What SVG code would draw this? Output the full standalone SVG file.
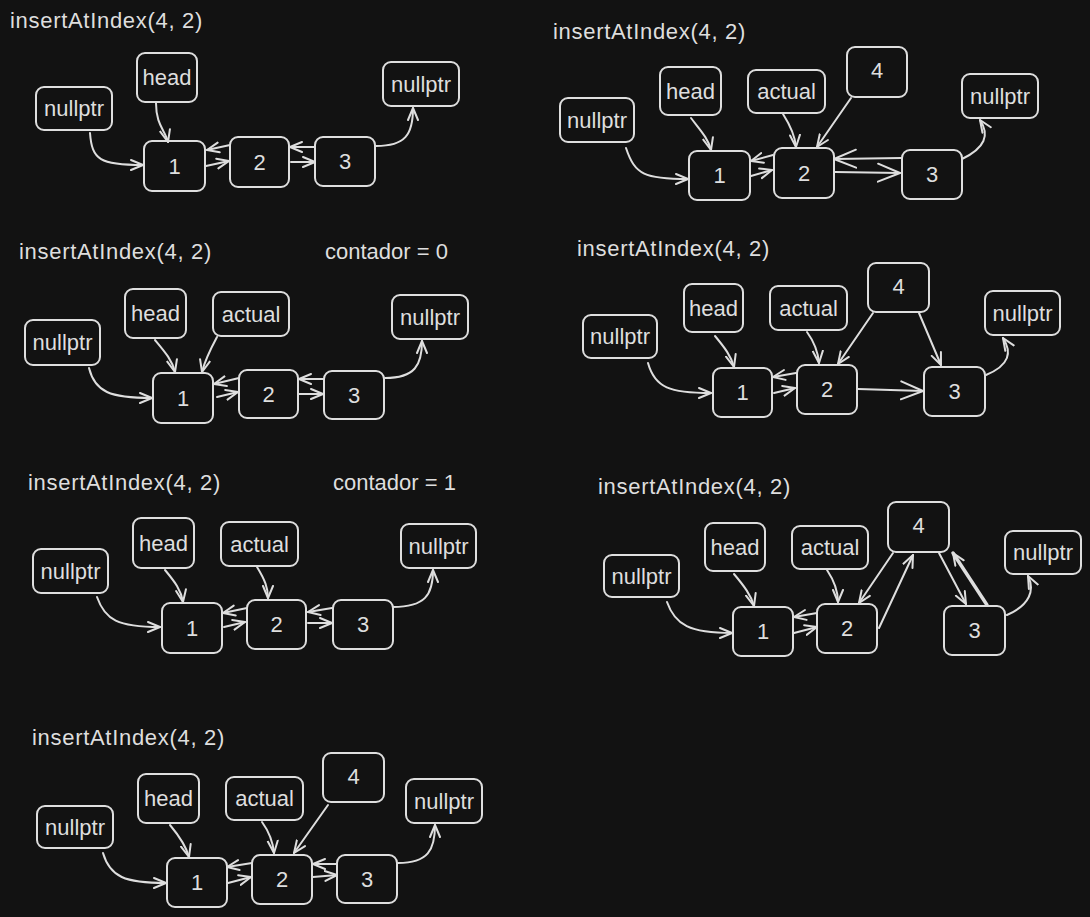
<svg xmlns="http://www.w3.org/2000/svg" width="1090" height="917" viewBox="0 0 1090 917">
<defs>
<style>
.bg{fill:#121212}
.n rect{fill:#121212;stroke:#dedede;stroke-width:2}
.n text,.lbl{font-family:"Liberation Sans",Arial,sans-serif;font-size:22px;fill:#dedede}
.ttl{letter-spacing:0.7px}
.n text{text-anchor:middle;dominant-baseline:central}
.c path{fill:none;stroke:#dedede;stroke-width:2;stroke-linecap:round;marker-end:url(#ah)}
.c path.L{marker-end:url(#ahL)}
.c path.T{stroke-width:3.5}
</style>
<marker id="ah" viewBox="0 0 14 14" refX="13" refY="7" markerWidth="14" markerHeight="14" orient="auto" markerUnits="userSpaceOnUse"><path d="M1,2 L13,7 L1,12" fill="none" stroke="#dedede" stroke-width="2" stroke-linecap="round" stroke-linejoin="round"/></marker>
<marker id="ahL" viewBox="0 0 24 24" refX="23" refY="12" markerWidth="24" markerHeight="24" orient="auto" markerUnits="userSpaceOnUse"><path d="M1,3 L23,12 L1,21" fill="none" stroke="#dedede" stroke-width="2" stroke-linecap="round" stroke-linejoin="round"/></marker>
</defs>
<rect class="bg" x="0" y="0" width="1090" height="917"/>

<!-- Titles -->
<text class="lbl ttl" x="10" y="28">insertAtIndex(4, 2)</text>
<text class="lbl ttl" x="553" y="39">insertAtIndex(4, 2)</text>
<text class="lbl ttl" x="19" y="259">insertAtIndex(4, 2)</text>
<text class="lbl" x="325" y="259">contador = 0</text>
<text class="lbl ttl" x="577" y="256">insertAtIndex(4, 2)</text>
<text class="lbl ttl" x="28" y="490">insertAtIndex(4, 2)</text>
<text class="lbl" x="333" y="490">contador = 1</text>
<text class="lbl ttl" x="598" y="494">insertAtIndex(4, 2)</text>
<text class="lbl ttl" x="32" y="745">insertAtIndex(4, 2)</text>

<!-- Panel A -->
<g id="a-nullL" class="n"><rect x="36" y="87" width="76" height="43" rx="8"/><text x="74" y="108.5">nullptr</text></g>
<g id="a-head" class="n"><rect x="137" y="53" width="60" height="49" rx="8"/><text x="167" y="77.5">head</text></g>
<g id="a-n1" class="n"><rect x="144" y="141" width="61" height="50" rx="8"/><text x="174.5" y="166">1</text></g>
<g id="a-n2" class="n"><rect x="230" y="137" width="59" height="50" rx="8"/><text x="259.5" y="162">2</text></g>
<g id="a-n3" class="n"><rect x="315" y="137" width="60" height="49" rx="8"/><text x="345" y="161.5">3</text></g>
<g id="a-nullR" class="n"><rect x="383" y="62" width="76" height="44" rx="8"/><text x="421" y="84">nullptr</text></g>

<!-- Panel B -->
<g id="b-nullL" class="n"><rect x="560" y="98" width="74" height="44" rx="8"/><text x="597" y="120">nullptr</text></g>
<g id="b-head" class="n"><rect x="660" y="67" width="61" height="48" rx="8"/><text x="690.5" y="91">head</text></g>
<g id="b-actual" class="n"><rect x="748" y="70" width="77" height="43" rx="8"/><text x="786.5" y="91.5">actual</text></g>
<g id="b-n4" class="n"><rect x="847" y="47" width="60" height="50" rx="8"/><text x="877" y="70">4</text></g>
<g id="b-nullR" class="n"><rect x="962" y="74" width="76" height="44" rx="8"/><text x="1000" y="96">nullptr</text></g>
<g id="b-n1" class="n"><rect x="689" y="151" width="61" height="49" rx="8"/><text x="719.5" y="175.5">1</text></g>
<g id="b-n2" class="n"><rect x="774" y="148" width="60" height="50" rx="8"/><text x="804" y="173">2</text></g>
<g id="b-n3" class="n"><rect x="902" y="150" width="60" height="49" rx="8"/><text x="932" y="174.5">3</text></g>

<!-- Panel C -->
<g id="c-nullL" class="n"><rect x="25" y="320" width="75" height="45" rx="8"/><text x="62.5" y="342.5">nullptr</text></g>
<g id="c-head" class="n"><rect x="125" y="289" width="61" height="49" rx="8"/><text x="155.5" y="313.5">head</text></g>
<g id="c-actual" class="n"><rect x="213" y="292" width="76" height="44" rx="8"/><text x="251" y="314">actual</text></g>
<g id="c-nullR" class="n"><rect x="392" y="295" width="76" height="44" rx="8"/><text x="430" y="317">nullptr</text></g>
<g id="c-n1" class="n"><rect x="153" y="373" width="60" height="50" rx="8"/><text x="183" y="398">1</text></g>
<g id="c-n2" class="n"><rect x="239" y="370" width="59" height="48" rx="8"/><text x="268.5" y="394">2</text></g>
<g id="c-n3" class="n"><rect x="324" y="371" width="60" height="48" rx="8"/><text x="354" y="395">3</text></g>

<!-- Panel D -->
<g id="d-nullL" class="n"><rect x="583" y="315" width="74" height="43" rx="8"/><text x="620" y="336.5">nullptr</text></g>
<g id="d-head" class="n"><rect x="684" y="284" width="59" height="48" rx="8"/><text x="713.5" y="308">head</text></g>
<g id="d-actual" class="n"><rect x="770" y="286" width="77" height="44" rx="8"/><text x="808.5" y="308">actual</text></g>
<g id="d-n4" class="n"><rect x="868" y="263" width="61" height="49" rx="8"/><text x="898.5" y="286">4</text></g>
<g id="d-nullR" class="n"><rect x="985" y="291" width="75" height="44" rx="8"/><text x="1022.5" y="313">nullptr</text></g>
<g id="d-n1" class="n"><rect x="713" y="368" width="59" height="49" rx="8"/><text x="742.5" y="392.5">1</text></g>
<g id="d-n2" class="n"><rect x="797" y="365" width="60" height="49" rx="8"/><text x="827" y="389.5">2</text></g>
<g id="d-n3" class="n"><rect x="924" y="367" width="61" height="49" rx="8"/><text x="954.5" y="391.5">3</text></g>

<!-- Panel E -->
<g id="e-nullL" class="n"><rect x="33" y="549" width="75" height="44" rx="8"/><text x="70.5" y="571">nullptr</text></g>
<g id="e-head" class="n"><rect x="133" y="518" width="61" height="50" rx="8"/><text x="163.5" y="543">head</text></g>
<g id="e-actual" class="n"><rect x="221" y="522" width="77" height="44" rx="8"/><text x="259.5" y="544">actual</text></g>
<g id="e-nullR" class="n"><rect x="401" y="524" width="75" height="44" rx="8"/><text x="438.5" y="546">nullptr</text></g>
<g id="e-n1" class="n"><rect x="162" y="603" width="60" height="50" rx="8"/><text x="192" y="628">1</text></g>
<g id="e-n2" class="n"><rect x="247" y="600" width="59" height="49" rx="8"/><text x="276.5" y="624.5">2</text></g>
<g id="e-n3" class="n"><rect x="333" y="600" width="60" height="49" rx="8"/><text x="363" y="624.5">3</text></g>

<!-- Panel F -->
<g id="f-nullL" class="n"><rect x="604" y="555" width="75" height="42" rx="8"/><text x="641.5" y="576">nullptr</text></g>
<g id="f-head" class="n"><rect x="705" y="523" width="60" height="48" rx="8"/><text x="735" y="547">head</text></g>
<g id="f-actual" class="n"><rect x="792" y="526" width="76" height="43" rx="8"/><text x="830" y="547.5">actual</text></g>
<g id="f-n4" class="n"><rect x="888" y="502" width="61" height="50" rx="8"/><text x="918.5" y="525">4</text></g>
<g id="f-nullR" class="n"><rect x="1005" y="531" width="76" height="43" rx="8"/><text x="1043" y="552.5">nullptr</text></g>
<g id="f-n1" class="n"><rect x="733" y="607" width="60" height="49" rx="8"/><text x="763" y="631.5">1</text></g>
<g id="f-n2" class="n"><rect x="817" y="604" width="60" height="49" rx="8"/><text x="847" y="628.5">2</text></g>
<g id="f-n3" class="n"><rect x="944" y="606" width="61" height="49" rx="8"/><text x="974.5" y="630.5">3</text></g>

<!-- Panel G -->
<g id="g-nullL" class="n"><rect x="37" y="806" width="76" height="42" rx="8"/><text x="75" y="827">nullptr</text></g>
<g id="g-head" class="n"><rect x="138" y="774" width="61" height="49" rx="8"/><text x="168.5" y="798.5">head</text></g>
<g id="g-actual" class="n"><rect x="226" y="777" width="77" height="43" rx="8"/><text x="264.5" y="798.5">actual</text></g>
<g id="g-n4" class="n"><rect x="323" y="753" width="61" height="49" rx="8"/><text x="353.5" y="776">4</text></g>
<g id="g-nullR" class="n"><rect x="406" y="779" width="76" height="44" rx="8"/><text x="444" y="801">nullptr</text></g>
<g id="g-n1" class="n"><rect x="167" y="858" width="60" height="49" rx="8"/><text x="197" y="882.5">1</text></g>
<g id="g-n2" class="n"><rect x="252" y="855" width="60" height="49" rx="8"/><text x="282" y="879.5">2</text></g>
<g id="g-n3" class="n"><rect x="337" y="855" width="60" height="48" rx="8"/><text x="367" y="879">3</text></g>

<g id="connectors" class="c">
<!-- A -->
<path d="M90,133 C92,160 100,165 143,165"/>
<path d="M156,103 C156,125 165,130 168,142"/>
<path d="M206,166 L229,161"/>
<path d="M230,145 L207,150"/>
<path d="M291,162 L315,162"/>
<path d="M315,147 L290,147"/>
<path d="M376,146 C405,146 413,135 413,108"/>
<!-- B -->
<path d="M626,148 C635,175 645,179 688,179"/>
<path d="M691,118 C700,130 708,138 711,150"/>
<path d="M783,114 C790,125 795,135 796,147"/>
<path d="M851,98 L817,147"/>
<path d="M751,176 L772,170"/>
<path d="M773,155 L751,161"/>
<path class="L" d="M835,172 L900,173"/>
<path class="L" d="M901,158 L834,159"/>
<path d="M962,159 C985,148 990,135 980,120"/>
<!-- C -->
<path d="M89,368 C95,392 110,398 152,398"/>
<path d="M155,340 C165,352 172,360 175,372"/>
<path d="M217,337 C210,350 205,360 202,372"/>
<path d="M217,397 L238,392"/>
<path d="M239,378 L214,384"/>
<path d="M299,394 L323,394"/>
<path d="M323,379 L299,379"/>
<path d="M385,378 C415,378 422,365 422,341"/>
<!-- D -->
<path d="M648,363 C655,388 670,393 711,393"/>
<path d="M715,336 C725,348 731,356 734,367"/>
<path d="M807,332 C815,343 818,352 819,363"/>
<path d="M873,313 L838,364"/>
<path d="M919,313 L941,365"/>
<path d="M774,393 L795,388"/>
<path d="M796,373 L773,377"/>
<path class="L" d="M858,389 L923,391"/>
<path d="M986,375 C1010,365 1012,352 1003,338"/>
<!-- E -->
<path d="M97,597 C105,620 118,627 160,627"/>
<path d="M165,570 C175,582 181,590 183,602"/>
<path d="M257,567 C265,580 268,588 268,598"/>
<path d="M224,627 L245,622"/>
<path d="M247,608 L223,613"/>
<path d="M308,623 L332,623"/>
<path d="M332,608 L308,612"/>
<path d="M393,607 C425,607 433,595 433,570"/>
<!-- F -->
<path d="M667,602 C675,625 690,633 732,633"/>
<path d="M734,574 C744,586 751,595 754,606"/>
<path d="M827,570 C835,582 838,592 838,602"/>
<path d="M893,553 L859,603"/>
<path d="M879,628 L913,555"/>
<path d="M939,553 L966,604"/>
<path class="T" d="M987,605 L953,553"/>
<path d="M794,633 L817,627"/>
<path d="M817,613 L794,617"/>
<path d="M1007,615 C1030,605 1035,590 1028,576"/>
<!-- G -->
<path d="M103,853 C110,877 125,883 166,883"/>
<path d="M170,825 C180,837 186,846 189,857"/>
<path d="M262,822 C270,833 273,843 274,853"/>
<path d="M328,805 L294,853"/>
<path d="M228,883 L251,877"/>
<path d="M252,863 L227,867"/>
<path d="M313,877 L337,875"/>
<path d="M337,864 L313,864"/>
<path d="M398,863 C428,863 435,850 435,825"/>
</g>
</svg>
